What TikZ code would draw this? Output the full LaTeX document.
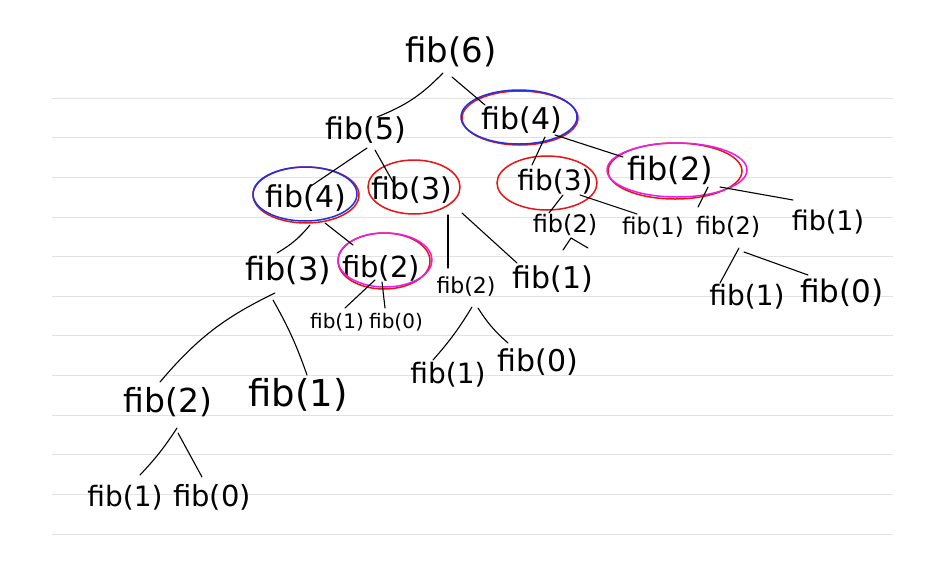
\documentclass[tikz,border=0pt]{standalone}
\usepackage{fontspec}
\setmainfont{DejaVu Sans}
\definecolor{penred}{RGB}{232,20,20}
\definecolor{penblue}{RGB}{30,50,225}
\definecolor{penmag}{RGB}{232,30,232}
\definecolor{rule}{RGB}{226,226,226}
\tikzset{
  fs/.style={inner sep=0pt, font=\fontsize{#1}{#1}\selectfont},
  pen/.style={draw=black, line width=1.1pt, line cap=round},
  ring/.style={line width=1.5pt},
  ruleline/.style={draw=rule, line width=0.9pt}
}
\begin{document}
\begin{tikzpicture}[x=1pt,y=-1pt]
\useasboundingbox[fill=white] (0,0) rectangle (942,563);
\foreach \k in {0,...,11} \draw[ruleline] (52,98+39.65*\k) -- (893,98+39.65*\k);

% nodes
\node[fs=34] (f6) at (451,52) {fib(6)};
\node[fs=30] (f5) at (366,130) {fib(5)};
\node[fs=30] (f4R) at (522,120) {fib(4)};
\node[fs=30] (f4L) at (306,198) {fib(4)};
\node[fs=30] (f3M) at (412,190) {fib(3)};
\node[fs=28] (f3R) at (555,182) {fib(3)};
\node[fs=32] (f2RT) at (670,170) {fib(2)};
\node[fs=24] (f2s) at (565,225) {fib(2)};
\node[fs=23] (f1s) at (653,227) {fib(1)};
\node[fs=24] (f2r) at (728,227) {fib(2)};
\node[fs=27] (f1fr) at (828,222) {fib(1)};
\node[fs=28] (f1br) at (747,297) {fib(1)};
\node[fs=31] (f0br) at (842,293) {fib(0)};
\node[fs=30] (f1M) at (553,279) {fib(1)};
\node[fs=32] (f3L) at (288,270) {fib(3)};
\node[fs=29] (f2mag) at (381,268) {fib(2)};
\node[fs=20] (f1t) at (337,322) {fib(1)};
\node[fs=20] (f0t) at (396,322) {fib(0)};
\node[fs=22] (f2M) at (466,287) {fib(2)};
\node[fs=33] (f2LB) at (168,402) {fib(2)};
\node[fs=37] (f1LB) at (298,395) {fib(1)};
\node[fs=28] (f1bb) at (125,498) {fib(1)};
\node[fs=29] (f0bb) at (212,497) {fib(0)};
\node[fs=28] (f1Mb) at (448,375) {fib(1)};
\node[fs=30] (f0Mb) at (538,362) {fib(0)};

% rings
\draw[ring,penred]  ([shift={(-2,-2)}]f4R.center) ellipse [x radius=58, y radius=27];
\draw[ring,penblue] ([shift={(-3,-3)}]f4R.center) ellipse [x radius=58, y radius=27];
\draw[ring,penred]  ([shift={(0,-3)}]f4L.center) ellipse [x radius=53, y radius=28];
\draw[ring,penblue] ([shift={(-1,-4)}]f4L.center) ellipse [x radius=52, y radius=27];
\draw[ring,penred]  ([shift={(2,-3)}]f3M.center) ellipse [x radius=46, y radius=27];
\draw[ring,penred]  ([shift={(-8,1)}]f3R.center) ellipse [x radius=50, y radius=27];
\draw[ring,penred]  ([shift={(5,1)}]f2RT.center) ellipse [x radius=67, y radius=28];
\draw[ring,penmag]  ([shift={(7,0)}]f2RT.center) ellipse [x radius=70, y radius=27];
\draw[ring,penred]  ([shift={(3,-7)}]f2mag.center) ellipse [x radius=46, y radius=28];
\draw[ring,penmag]  ([shift={(4,-8)}]f2mag.center) ellipse [x radius=47, y radius=27];

% connectors
\draw[pen] ([shift={(-8,21)}]f6.center) to[bend left=12] ([shift={(11,-13)}]f5.center);
\draw[pen] ([shift={(1,25)}]f6.center) -- ([shift={(-37,-15)}]f4R.center);
\draw[pen] ([shift={(1,18)}]f5.center) -- ([shift={(2,-10)}]f4L.center);
\draw[pen] ([shift={(9,20)}]f5.center) -- ([shift={(-19,-8)}]f3M.center);
\draw[pen] ([shift={(23,17)}]f4R.center) -- ([shift={(-23,-17)}]f3R.center);
\draw[pen] ([shift={(33,15)}]f4R.center) -- ([shift={(-47,-13)}]f2RT.center);
\draw[pen] ([shift={(8,13)}]f3R.center) -- ([shift={(-16,-12)}]f2s.center);
\draw[pen] ([shift={(25,13)}]f3R.center) -- ([shift={(-16,-13)}]f1s.center);
\draw[pen] ([shift={(38,17)}]f2RT.center) -- ([shift={(-30,-20)}]f2r.center);
\draw[pen] ([shift={(50,17)}]f2RT.center) -- ([shift={(-35,-22)}]f1fr.center);
\draw[pen] ([shift={(11,21)}]f2r.center) -- ([shift={(-27,-14)}]f1br.center);
\draw[pen] ([shift={(16,25)}]f2r.center) -- ([shift={(-34,-18)}]f0br.center);
\draw[pen] ([shift={(-2,25)}]f2s.center) -- ([shift={(6,13)}]f2s.center) -- ([shift={(23,23)}]f2s.center);
\draw[pen] ([shift={(22,-45)}]f3L.center) to[bend left=10] ([shift={(-11,-17)}]f3L.center);
\draw[pen] ([shift={(19,25)}]f4L.center) -- ([shift={(-28,-23)}]f2mag.center);
\draw[pen] ([shift={(36,25)}]f3M.center) -- ([shift={(-18,-19)}]f2M.center);
\draw[pen] ([shift={(50,23)}]f3M.center) -- ([shift={(-36,-16)}]f1M.center);
\draw[pen] ([shift={(-6,12)}]f2mag.center) -- ([shift={(8,-14)}]f1t.center);
\draw[pen] ([shift={(1,14)}]f2mag.center) -- ([shift={(-11,-14)}]f0t.center);
\draw[pen] ([shift={(-13,23)}]f3L.center) to[bend right=12] ([shift={(-8,-20)}]f2LB.center);
\draw[pen] ([shift={(-15,30)}]f3L.center) to[bend left=5] ([shift={(9,-20)}]f1LB.center);
\draw[pen] ([shift={(9,26)}]f2LB.center) to[bend left=5] ([shift={(15,-23)}]f1bb.center);
\draw[pen] ([shift={(10,31)}]f2LB.center) -- ([shift={(-10,-20)}]f0bb.center);
\draw[pen] ([shift={(6,20)}]f2M.center) to[bend left=5] ([shift={(-15,-15)}]f1Mb.center);
\draw[pen] ([shift={(12,21)}]f2M.center) to[bend right=8] ([shift={(-30,-19)}]f0Mb.center);
\end{tikzpicture}
\end{document}
